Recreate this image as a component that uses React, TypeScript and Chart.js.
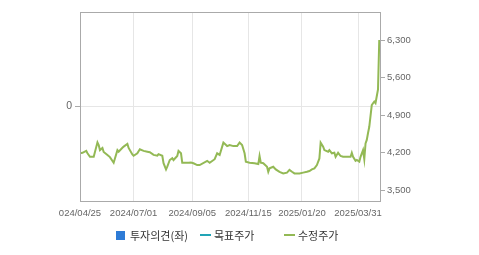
import { useEffect, useRef } from "react";
import { Chart, registerables } from "chart.js";

Chart.register(...registerables);

const AXIS_FONT = "'Liberation Sans', Arial, sans-serif";
const LEGEND_FONT = "'Noto Sans CJK KR', 'Noto Sans', sans-serif";

// trading-day index from 2024/04/25, adjusted close price (KRW)
const priceSeries: [number, number][] = [
  [0, 4185], [2, 4195], [5, 4230], [6, 4185], [8, 4120], [11, 4120], [14, 4390], [15, 4340],
  [16, 4245], [18, 4285], [19, 4210], [22, 4155], [24, 4115], [27, 4010], [30, 4245], [31, 4215],
  [34, 4290], [35, 4310], [38, 4360], [39, 4285], [42, 4165], [43, 4140], [46, 4185], [48, 4260],
  [51, 4230], [54, 4215], [56, 4205], [59, 4155], [62, 4140], [63, 4170], [66, 4140], [67, 4000],
  [69, 3885], [70, 3935], [72, 4060], [74, 4095], [75, 4060], [78, 4135], [79, 4230], [81, 4185],
  [82, 4010], [84, 4010], [87, 4010], [89, 4015], [91, 4000], [94, 3965], [96, 3965], [102, 4045],
  [104, 4010], [108, 4075], [110, 4185], [112, 4155], [115, 4385], [118, 4320], [120, 4340], [123, 4320],
  [126, 4320], [128, 4385], [130, 4340], [132, 4185], [133, 4030], [136, 4010], [140, 4000], [143, 3985],
  [144, 4135], [145, 4010], [147, 4000], [150, 3935], [151, 3840], [152, 3905], [155, 3935], [157, 3885],
  [160, 3840], [163, 3810], [166, 3825], [168, 3875], [170, 3840], [172, 3810], [176, 3810], [179, 3825],
  [182, 3840], [184, 3855], [186, 3885], [188, 3905], [190, 3965], [192, 4090], [193, 4385], [195, 4310],
  [196, 4245], [199, 4215], [200, 4245], [202, 4185], [204, 4195], [205, 4120], [207, 4195], [209, 4135],
  [211, 4120], [214, 4120], [217, 4120], [218, 4195], [219, 4120], [221, 4045], [222, 4060], [224, 4030],
  [225, 4120], [227, 4245], [228, 4075], [229, 4370], [230, 4435], [231, 4565], [232, 4680], [234, 5085],
  [235, 5120], [236, 5150], [237, 5120], [238, 5250], [239, 5380], [240, 6300],
];

const tickDays = [0, 43, 90, 135, 178, 223];
const tickLabels = ["024/04/25", "2024/07/01", "2024/09/05", "2024/11/15", "2025/01/20", "2025/03/31"];
const priceTicks = [3500, 4200, 4900, 5600, 6300];
const opinionTicks = [0];
const legendNames = ["투자의견(좌)", "목표주가", "수정주가"];

const GREEN = "#93b955";
const TEAL = "#22a4b6";
const BLUE = "#2e7bd6";

const frame = {
  id: "frame",
  afterDraw(chart: any) {
    const { left, top, right, bottom } = chart.chartArea;
    const ctx = chart.ctx;
    ctx.save();
    ctx.strokeStyle = "#aaaaaa";
    ctx.lineWidth = 1;
    ctx.strokeRect(left + 0.5, top + 0.5, right - left, bottom - top);
    ctx.restore();
  },
};

export default function App() {
  const ref = useRef<HTMLCanvasElement | null>(null);

  useEffect(() => {
    document.body.style.margin = "0";
    const font = { family: AXIS_FONT, size: 9.5 };
    const chart = new Chart(ref.current as HTMLCanvasElement, {
      type: "line",
      data: {
        datasets: [
          {
            label: legendNames[2],
            data: priceSeries.map(([x, y]) => ({ x, y })),
            yAxisID: "y",
            borderColor: GREEN,
            borderWidth: 2,
            pointRadius: 0,
            tension: 0,
            fill: false,
          },
        ],
      },
      options: {
        animation: false,
        responsive: false,
        devicePixelRatio: 1,
        layout: { padding: { top: 12, left: 0, right: 0, bottom: 0 } },
        plugins: { legend: { display: false }, tooltip: { enabled: false } },
        scales: {
          x: {
            type: "linear",
            min: 0,
            max: 240.6,
            afterBuildTicks: (s: any) => {
              s.ticks = tickDays.map((v) => ({ value: v }));
            },
            afterFit: (s: any) => {
              s.height = 54;
            },
            ticks: {
              autoSkip: false,
              maxRotation: 0,
              padding: 7,
              color: "#666",
              font,
              callback: (v: any) => {
                const i = tickDays.indexOf(Number(v));
                return i >= 0 ? tickLabels[i] : "";
              },
            },
            grid: { color: "#e6e6e6", drawTicks: false },
            border: { display: false },
          },
          yL: {
            type: "linear",
            position: "left",
            min: -1,
            max: 1,
            afterBuildTicks: (s: any) => {
              s.ticks = opinionTicks.map((v) => ({ value: v }));
            },
            afterFit: (s: any) => {
              s.width = 80;
            },
            ticks: { padding: 3, color: "#666", font: { family: AXIS_FONT, size: 10.5 } },
            grid: { color: "#e6e6e6", tickColor: "#aaaaaa", tickLength: 5 },
            border: { display: false },
          },
          y: {
            type: "linear",
            position: "right",
            min: 3295,
            max: 6823,
            afterBuildTicks: (s: any) => {
              s.ticks = priceTicks.map((v) => ({ value: v }));
            },
            afterFit: (s: any) => {
              s.width = 99;
            },
            ticks: {
              padding: 2,
              color: "#666",
              font,
              callback: (v: any) => Number(v).toLocaleString("en-US"),
            },
            grid: { drawOnChartArea: false, tickColor: "#aaaaaa", tickLength: 5 },
            border: { display: false },
          },
        },
      } as any,
      plugins: [frame],
    });
    return () => chart.destroy();
  }, []);

  const textStyle = (left: number): React.CSSProperties => ({
    position: "absolute",
    left,
    top: 228,
    lineHeight: "14px",
    fontSize: 11,
    fontFamily: LEGEND_FONT,
    color: "#333",
    whiteSpace: "nowrap",
  });

  return (
    <div style={{ position: "relative", width: 479, height: 255, background: "#fff" }}>
      <canvas ref={ref} width={479} height={255} style={{ width: 479, height: 255, display: "block" }} />
      <div style={{ position: "absolute", left: 116, top: 231, width: 9, height: 9, background: BLUE }} />
      <div style={textStyle(130)}>{legendNames[0]}</div>
      <div style={{ position: "absolute", left: 200, top: 234, width: 11, height: 2, background: TEAL }} />
      <div style={textStyle(214)}>{legendNames[1]}</div>
      <div style={{ position: "absolute", left: 284, top: 234, width: 11, height: 2, background: GREEN }} />
      <div style={textStyle(298)}>{legendNames[2]}</div>
    </div>
  );
}
